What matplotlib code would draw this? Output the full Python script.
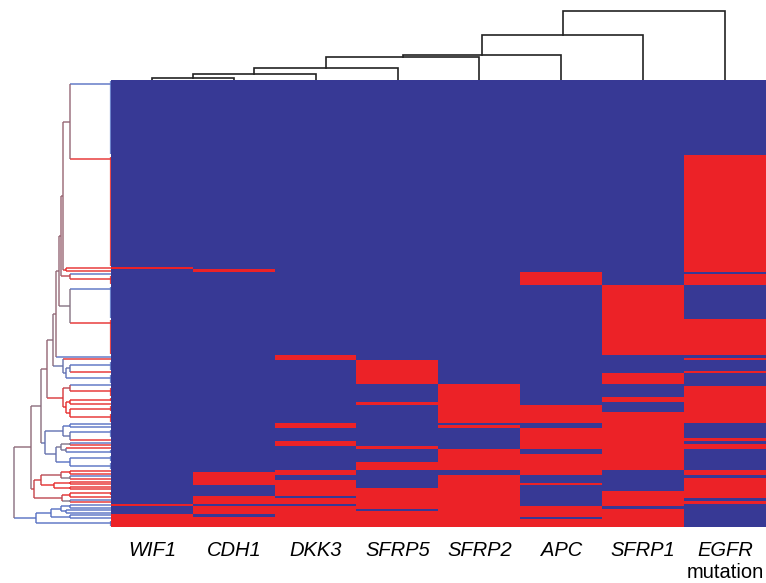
import numpy as np
import matplotlib
matplotlib.use("Agg")
import matplotlib.pyplot as plt
from matplotlib.colors import ListedColormap, LinearSegmentedColormap

# ---------------- data ----------------
genes = ["WIF1", "CDH1", "DKK3", "SFRP5", "SFRP2", "APC", "SFRP1", "EGFR"]

# row blocks, top -> bottom: status per gene (1 = methylated / mutated, red)
block_patterns = [
    "00000000", "00000001", "10000001", "01000001", "00000100", "00000101",
    "00000010", "00000011", "00100000", "00100001", "00010000", "00010001",
    "00010010", "00001000", "00001001", "00001011", "00011001", "00001101",
    "00001111", "00100010", "00101010", "00000110", "00000111", "00100110",
    "00100111", "00010111", "00001010", "00001110", "00011110", "00100101",
    "01100101", "01001000", "01001001", "01101001", "01101101", "00101001",
    "00111001", "00111011", "01011011", "01111010", "01111011", "10011010",
    "01111100", "01101110", "01111110", "10111110", "11111010", "11111110",
]
# number of patients in each block
block_counts = [
    29, 43, 1, 1, 1, 4, 13, 14, 1, 1, 4, 1,
    4, 1, 4, 2, 1, 3, 4, 1, 1, 4, 1, 1,
    1, 1, 2, 3, 3, 1, 1, 1, 1, 1, 1, 1,
    1, 2, 1, 1, 1, 1, 1, 1, 1, 1, 1, 3,
]

# row dendrogram: [left, right, merge height]
# (leaves are block indices, heights in dendrogram distance units)
node_a = [[0, 1, 41], [2, 3, 45], 48]
node_b = [node_a, [4, 5, 41], 50]
node_c = [node_b, [6, 7, 41], 52]
node_d = [node_c, 8, 55]
node_e = [node_d, [9, [[10, 11, 41], 12, 45], 48], 58]
node_f = [node_e, [[13, 14, 41], [[15, 16, 41], [17, 18, 41], 45], 48], 64]
blue_mid = [[[19, 20, 41], [21, 22, 41], 48],
            [[[23, 24, 41], [25, 26, 45], 50], [27, 28, 41], 55], 66]
node_g = [node_f, blue_mid, 70]
red_low = [[[[29, 30, 41], [31, 32, 41], 50], [[33, 34, 41], [35, 36, 41], 57], 70],
           [[37, 38, 41], [39, 40, 41], 49], 77]
node_h = [node_g, red_low, 80]
blue_low = [[[[41, 42, 41], [43, 44, 45], 50], [45, 46, 41], 60], 47, 75]
row_tree = [node_h, blue_low, 97]

# column dendrogram: genes joined one after another (left to right), merge heights
gene_merge_heights = [0.03, 0.087, 0.174, 0.333, 0.362, 0.652, 1.0]

BLUE = "#373995"
RED = "#ec2227"

# ---------------- figure ----------------
W, H = 766, 583
plt.rcParams["font.family"] = ["Liberation Sans", "DejaVu Sans"]
fig = plt.figure(figsize=(W / 100, H / 100), dpi=100)

hm_left, hm_right, hm_top, hm_bot = 111, 766, 80, 527


def fx(px):
    return px / W


def fy(py):
    return 1 - py / H


mat = np.array([[int(c) for c in p] for p in block_patterns])
counts = np.array(block_counts)
rows = np.repeat(mat, counts, axis=0)
nrows = rows.shape[0]
starts = np.concatenate([[0], np.cumsum(counts)[:-1]])
egfr = mat[:, 7]

# ---- left dendrogram ----
axL = fig.add_axes([0, fy(hm_bot), fx(hm_left), (hm_bot - hm_top) / H])
axL.axis("off")
LBLUE = (0.33, 0.43, 0.76)
LRED = (0.90, 0.16, 0.16)
cmap_line = LinearSegmentedColormap.from_list(
    "bl", [LBLUE, (0.50, 0.45, 0.52), LRED])

for i in range(len(mat)):
    if counts[i] > 1:
        axL.plot([0, 0], [starts[i] + 0.5, starts[i] + counts[i] - 0.5],
                 color=LRED if egfr[i] else LBLUE, lw=1.6, alpha=0.85,
                 clip_on=False, solid_capstyle="butt")


def draw(node):
    """returns (position, height, n_rows, n_egfr)"""
    if not isinstance(node, list):
        i = node
        pos = starts[i] + min(counts[i], 3) / 2.0
        return pos, 0.0, counts[i], counts[i] * egfr[i]
    pa, ha, na, ea = draw(node[0])
    pb, hb, nb, eb = draw(node[1])
    h = node[2]
    axL.plot([ha, h], [pa, pa], color=cmap_line(ea / na), lw=1.1, alpha=0.9,
             solid_capstyle="butt")
    axL.plot([hb, h], [pb, pb], color=cmap_line(eb / nb), lw=1.1, alpha=0.9,
             solid_capstyle="butt")
    axL.plot([h, h], [pa, pb], color=cmap_line((ea + eb) / (na + nb)),
             lw=1.1, alpha=0.9, solid_capstyle="butt")
    return (pa + pb) / 2.0, h, na + nb, ea + eb


draw(row_tree)
axL.set_ylim(nrows, 0)
axL.set_xlim(hm_left, 0)

# ---- heatmap ----
ax = fig.add_axes([fx(hm_left), fy(hm_bot), fx(hm_right - hm_left),
                   (hm_bot - hm_top) / H])
ax.imshow(rows, cmap=ListedColormap([BLUE, RED]), aspect="auto",
          interpolation="nearest", extent=(-0.5, 7.5, nrows, 0), vmin=0, vmax=1)
for s in ax.spines.values():
    s.set_visible(False)
ax.set_yticks([])
ax.set_xticks(range(len(genes)))
ax.set_xticklabels(genes, fontsize=14.5, fontstyle="italic")
ax.tick_params(axis="x", length=0, pad=10)
ax.text(7, nrows + 17.6, "mutation", ha="center", va="center", fontsize=14.5,
        clip_on=False)

# ---- top dendrogram ----
axT = fig.add_axes([fx(hm_left), fy(hm_top), fx(hm_right - hm_left), hm_top / H])
axT.axis("off")
cur_pos, cur_h = 0.0, 0.0
for i, h in enumerate(gene_merge_heights, start=1):
    axT.plot([cur_pos, cur_pos, i, i], [cur_h, h, h, 0], color="#222222",
             lw=1.2, solid_joinstyle="miter")
    cur_pos, cur_h = (cur_pos + i) / 2.0, h
axT.set_xlim(-0.5, 7.5)
axT.set_ylim(0, 80 / 69)

fig.savefig("out.png", dpi=100)
